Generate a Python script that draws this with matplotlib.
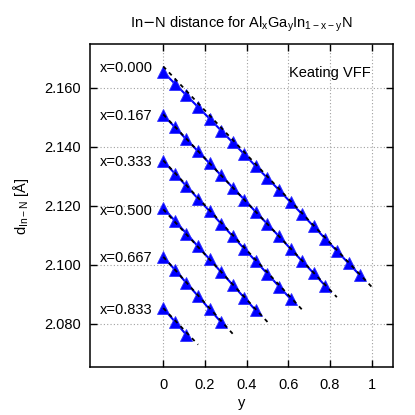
import matplotlib
matplotlib.use('Agg')
import matplotlib.pyplot as plt

plt.rcParams['font.family'] = ['Liberation Sans', 'DejaVu Sans']
plt.rcParams['axes.unicode_minus'] = True

# ---- data ----
x_values = [0.000, 0.167, 0.333, 0.500, 0.667, 0.833]
y_values = [0.000, 0.056, 0.111, 0.167, 0.222, 0.278, 0.333, 0.389, 0.444,
            0.500, 0.556, 0.611, 0.667, 0.722, 0.778, 0.833, 0.889, 0.944]

d_x000 = [2.1654, 2.1614, 2.1575, 2.1535, 2.1496, 2.1455, 2.1415, 2.1375, 2.1334,
          2.1294, 2.1253, 2.1212, 2.1171, 2.1130, 2.1088, 2.1047, 2.1005, 2.0964]
d_x167 = [2.1507, 2.1467, 2.1425, 2.1385, 2.1344, 2.1303, 2.1262, 2.1221, 2.1179,
          2.1138, 2.1096, 2.1054, 2.1012, 2.0971, 2.0928]
d_x333 = [2.1352, 2.1309, 2.1267, 2.1224, 2.1182, 2.1139, 2.1097, 2.1054, 2.1012,
          2.0969, 2.0926, 2.0884]
d_x500 = [2.1193, 2.1149, 2.1106, 2.1062, 2.1019, 2.0975, 2.0932, 2.0888, 2.0845]
d_x667 = [2.1027, 2.0983, 2.0938, 2.0894, 2.0849, 2.0805]
d_x833 = [2.0852, 2.0807, 2.0762]
d_series = [d_x000, d_x167, d_x333, d_x500, d_x667, d_x833]

# linear fits (dashed): value at y=0 and at y=1-x
fit_start = [2.1673, 2.1510, 2.1354, 2.1188, 2.1027, 2.0853]
fit_end = [2.0925, 2.0890, 2.0847, 2.0806, 2.0766, 2.0729]

x_ticks = [0, 0.2, 0.4, 0.6, 0.8, 1]
x_tick_labels = ['0', '0.2', '0.4', '0.6', '0.8', '1']
y_ticks = [2.080, 2.100, 2.120, 2.140, 2.160]
y_tick_labels = ['2.080', '2.100', '2.120', '2.140', '2.160']

# ---- figure ----
fig = plt.figure(figsize=(4.15, 4.15), dpi=100)
ax = fig.add_axes([0.2176, 0.1149, 0.7287, 0.7784])

FS = 10.5
for xv, ds, f0, f1 in zip(x_values, d_series, fit_start, fit_end):
    ys = y_values[:len(ds)]
    ax.plot(ys, ds, color='#0000ff', lw=1.5, marker='^', ms=8,
            markeredgecolor='#3030ff', markeredgewidth=0.6, zorder=3)
    ax.plot([0, 1 - xv], [f0, f1], color='black', lw=1.3,
            linestyle=(0, (2.2, 2.4)), zorder=4)
    ax.annotate(f'x={xv:.3f}', xy=(-0.051, f0), xytext=(0, -1.2),
                textcoords='offset points', ha='right', va='center',
                fontsize=FS)

ax.set_xlim(-0.35, 1.101)
ax.set_ylim(2.0652, 2.1748)
ax.set_xticks(x_ticks)
ax.set_xticklabels(x_tick_labels)
ax.set_yticks(y_ticks)
ax.set_yticklabels(y_tick_labels)
ax.tick_params(direction='in', top=True, right=True, length=5, width=1,
               labelsize=FS)
ax.tick_params(axis='y', pad=6.5)
ax.tick_params(axis='x', pad=7.5)
ax.grid(True, color='#a0a0a0', linestyle=(0, (1, 2)), lw=0.8)
ax.set_axisbelow(True)
for sp in ax.spines.values():
    sp.set_linewidth(1.1)

ax.set_title(r'In$-$N distance for Al$\mathregular{_x}$Ga$\mathregular{_y}$In$\mathregular{_{1-x-y}}$N',
             fontsize=FS, pad=12)
ax.set_xlabel('y', fontsize=FS)
ax.xaxis.set_label_coords(0.5, -0.09)
ax.set_ylabel(r'd$\mathregular{_{In-N}}$ [Å]', fontsize=FS)
ax.yaxis.set_label_coords(-0.195, 0.5)

ax.text(0.928, 0.910, 'Keating VFF', transform=ax.transAxes,
        ha='right', va='center', fontsize=FS)

fig.savefig('out.png', dpi=100)
